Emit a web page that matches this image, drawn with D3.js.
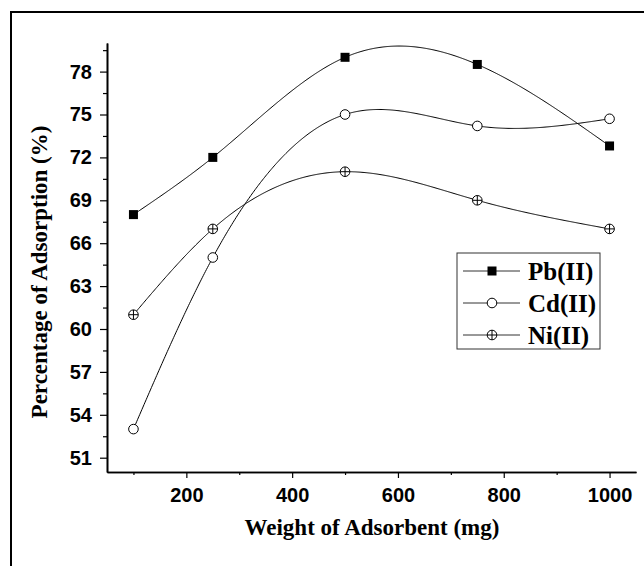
<!DOCTYPE html>
<html>
<head>
<meta charset="utf-8">
<script src="https://cdn.jsdelivr.net/npm/d3@7"></script>
<style>
  body { margin: 0; background: #fff; }
  svg { display: block; }
</style>
</head>
<body>
<svg id="chart" width="644" height="566"></svg>
<script>
// adsorbent weight (mg)
var weights = [100, 250, 500, 750, 1000];
var pbValues = [68, 72, 79, 78.5, 72.8];
var cdValues = [53, 65, 75, 74.2, 74.7];
var niValues = [61, 67, 71, 69, 67];
var seriesNames = ["Pb(II)", "Cd(II)", "Ni(II)"];
var xMajor = [200, 400, 600, 800, 1000];
var xMinor = [100, 300, 500, 700, 900];
var yMajor = [51, 54, 57, 60, 63, 66, 69, 72, 75, 78];
var yMinor = [52.5, 55.5, 58.5, 61.5, 64.5, 67.5, 70.5, 73.5, 76.5, 79.5];

var series = [
  { name: seriesNames[0], values: pbValues, marker: "square" },
  { name: seriesNames[1], values: cdValues, marker: "circle" },
  { name: seriesNames[2], values: niValues, marker: "cross" }
];

var svg = d3.select("#chart");

// outer frame, runs off the right and bottom edge
svg.append("rect")
  .attr("x", 11).attr("y", 12)
  .attr("width", 700).attr("height", 700)
  .attr("fill", "none").attr("stroke", "#000").attr("stroke-width", 2);

var xScale = d3.scaleLinear().domain([50, 1050]).range([107, 636]);
var yScale = d3.scaleLinear().domain([50, 80]).range([472, 43]);

var tickFont = "bold 20px 'Liberation Sans', Arial, sans-serif";
var titleFont = "bold 23px 'Liberation Serif', 'Times New Roman', serif";

// x axis
var gx = svg.append("g").attr("transform", "translate(0,472)");
gx.call(d3.axisBottom(xScale).tickValues(xMajor).tickFormat(d3.format("d"))
  .tickSize(6).tickPadding(10).tickSizeOuter(0));
gx.append("g").call(d3.axisBottom(xScale).tickValues(xMinor).tickSize(3).tickFormat("").tickSizeOuter(0));

// y axis
var gy = svg.append("g").attr("transform", "translate(107,0)");
gy.call(d3.axisLeft(yScale).tickValues(yMajor).tickSize(7).tickPadding(8).tickSizeOuter(0));
gy.append("g").call(d3.axisLeft(yScale).tickValues(yMinor).tickSize(4).tickFormat("").tickSizeOuter(0));

svg.selectAll(".domain").attr("stroke", "#000").attr("stroke-width", 1.6);
svg.selectAll(".tick line").attr("stroke", "#000").attr("stroke-width", 1.2);
svg.selectAll(".tick text").style("font", tickFont).attr("fill", "#000");

// axis titles
svg.append("text")
  .attr("x", 372).attr("y", 535)
  .attr("text-anchor", "middle")
  .style("font", titleFont)
  .text("Weight of Adsorbent (mg)");

svg.append("text")
  .attr("transform", "translate(47,272) rotate(-90)")
  .attr("text-anchor", "middle")
  .style("font", titleFont)
  .text("Percentage of Adsorption (%)");

// natural cubic spline in x, used to draw the smooth connecting curve
function splineCurve(xs, ys) {
  var n = xs.length, h = [], a = [], b = [], c = [], r = [], m = new Array(n).fill(0);
  for (var i = 0; i < n - 1; i++) h.push(xs[i + 1] - xs[i]);
  for (i = 1; i < n - 1; i++) {
    a[i] = h[i - 1]; b[i] = 2 * (h[i - 1] + h[i]); c[i] = h[i];
    r[i] = 6 * ((ys[i + 1] - ys[i]) / h[i] - (ys[i] - ys[i - 1]) / h[i - 1]);
  }
  for (i = 2; i < n - 1; i++) {
    var f = a[i] / b[i - 1];
    b[i] -= f * c[i - 1]; r[i] -= f * r[i - 1];
  }
  for (i = n - 2; i >= 1; i--) m[i] = (r[i] - (i < n - 2 ? c[i] * m[i + 1] : 0)) / b[i];
  return function (x) {
    var k = Math.min(n - 2, Math.max(0, d3.bisectRight(xs, x) - 1));
    var t = x - xs[k], u = xs[k + 1] - x, hk = h[k];
    return m[k] * u * u * u / (6 * hk) + m[k + 1] * t * t * t / (6 * hk) +
      (ys[k] / hk - m[k] * hk / 6) * u + (ys[k + 1] / hk - m[k + 1] * hk / 6) * t;
  };
}

var line = d3.line()
  .x(function (d) { return xScale(d[0]); })
  .y(function (d) { return yScale(d[1]); });

function drawMarker(g, type) {
  if (type === "square") {
    g.append("rect").attr("x", -4.5).attr("y", -4.5).attr("width", 9).attr("height", 9)
      .attr("fill", "#000");
  } else if (type === "circle") {
    g.append("circle").attr("r", 4.8).attr("fill", "#fff").attr("stroke", "#000").attr("stroke-width", 1);
  } else {
    g.append("circle").attr("r", 4.8).attr("fill", "#fff").attr("stroke", "#000").attr("stroke-width", 1);
    g.append("path").attr("d", "M-4.8,0H4.8M0,-4.8V4.8").attr("stroke", "#000").attr("stroke-width", 1);
  }
}

series.forEach(function (s) {
  var f = splineCurve(weights, s.values);
  var xs = d3.range(weights[0], weights[weights.length - 1], 2).concat([weights[weights.length - 1]]);
  svg.append("path")
    .attr("d", line(xs.map(function (x) { return [x, f(x)]; })))
    .attr("fill", "none").attr("stroke", "#000").attr("stroke-width", 1);
  weights.forEach(function (w, i) {
    var g = svg.append("g").attr("transform", "translate(" + xScale(w) + "," + yScale(s.values[i]) + ")");
    drawMarker(g, s.marker);
  });
});

// legend
var legend = svg.append("g").attr("transform", "translate(457,253)");
legend.append("rect").attr("width", 143).attr("height", 96)
  .attr("fill", "#fff").attr("stroke", "#333").attr("stroke-width", 1);
series.forEach(function (s, i) {
  var y = 18 + i * 32;
  legend.append("line").attr("x1", 6).attr("x2", 63).attr("y1", y).attr("y2", y)
    .attr("stroke", "#333").attr("stroke-width", 1);
  drawMarker(legend.append("g").attr("transform", "translate(35," + y + ")"), s.marker);
  legend.append("text").attr("x", 71).attr("y", y + 9)
    .style("font", "bold 25px 'Liberation Serif', 'Times New Roman', serif")
    .text(s.name);
});
</script>
</body>
</html>
